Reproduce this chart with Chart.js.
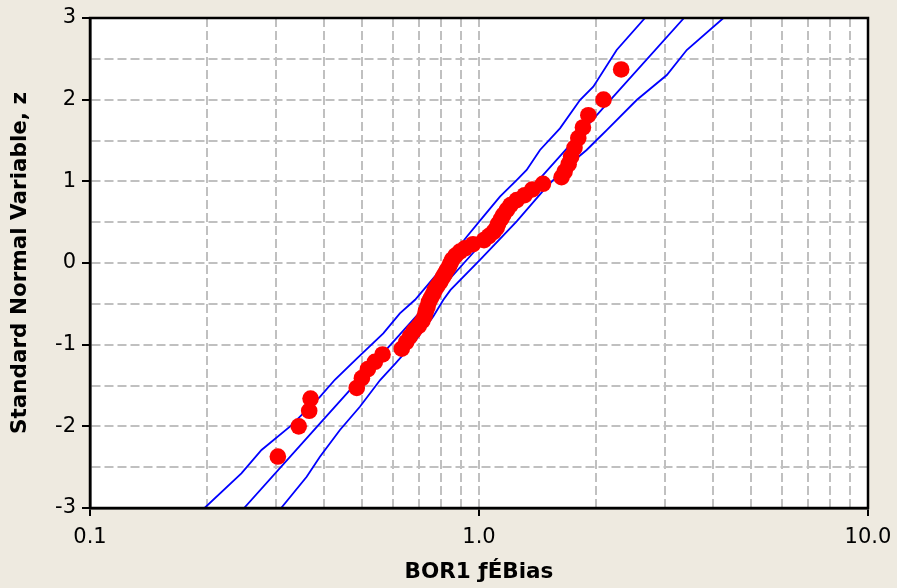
<!DOCTYPE html>
<html lang="en">
<head>
<meta charset="UTF-8">
<title>BOR1 probability plot</title>
<script src="https://cdn.jsdelivr.net/npm/chart.js"></script>
<style>
  html, body { margin: 0; padding: 0; background: #eeeae0; }
  canvas { display: block; }
</style>
</head>
<body>
<canvas id="probChart" width="897" height="588"></canvas>
<script>
// observed bias (sorted) and the standard normal variable of each rank
const biasValues = [
  0.304, 0.344, 0.366, 0.369, 0.485, 0.500, 0.518, 0.540, 0.565, 0.633,
  0.650, 0.664, 0.680, 0.700, 0.715, 0.725, 0.730, 0.737, 0.743, 0.752,
  0.762, 0.770, 0.782, 0.795, 0.806, 0.815, 0.826, 0.838, 0.845, 0.853,
  0.870, 0.893, 0.920, 0.965, 1.030, 1.060, 1.090, 1.110, 1.120, 1.140,
  1.155, 1.180, 1.205, 1.250, 1.310, 1.370, 1.460, 1.630, 1.660, 1.700,
  1.725, 1.760, 1.800, 1.850, 1.910, 2.090, 2.320
];
const zValues = [
  -2.37, -2.00, -1.81, -1.66, -1.53, -1.41, -1.30, -1.21, -1.12, -1.05,
  -0.97, -0.90, -0.83, -0.77, -0.71, -0.65, -0.59, -0.54, -0.48, -0.43,
  -0.38, -0.33, -0.28, -0.23, -0.18, -0.14, -0.09, -0.04, 0.00, 0.04,
  0.09, 0.14, 0.18, 0.23, 0.28, 0.33, 0.38, 0.43, 0.48, 0.54,
  0.59, 0.65, 0.71, 0.77, 0.83, 0.90, 0.97, 1.05, 1.12, 1.21,
  1.30, 1.41, 1.53, 1.66, 1.81, 2.00, 2.37
];

// fitted lognormal line
const fitZ = [-3, -2, -1, 0, 1, 2, 3];
const fitBias = [0.249, 0.384, 0.593, 0.915, 1.413, 2.18, 3.365];

// confidence band, left edge
const bandLoZ = [
  -3.00, -2.575, -2.29, -2.00, -1.64, -1.43, -1.17, -0.861, -0.616, -0.45,
  -0.045, 0.322, 0.567, 0.812, 1.016, 1.139, 1.384, 1.649, 1.996, 2.159,
  2.608, 3.00
];
const bandLoBias = [
  0.197, 0.245, 0.276, 0.327, 0.390, 0.426, 0.485, 0.5675, 0.626, 0.685,
  0.809, 0.930, 1.026, 1.132, 1.250, 1.326, 1.435, 1.615, 1.818, 1.967,
  2.259, 2.671
];

// confidence band, right edge
const bandHiZ = [
  -3.00, -2.617, -2.372, -2.045, -1.76, -1.433, -1.23, -0.983, -0.657, -0.45,
  -0.33, 0.037, 0.51, 0.934, 1.179, 1.384, 1.506, 1.628, 1.996, 2.302,
  2.608, 3.00
];
const bandHiBias = [
  0.310, 0.3606, 0.390, 0.439, 0.494, 0.557, 0.610, 0.678, 0.762, 0.810,
  0.845, 1.006, 1.250, 1.493, 1.680, 1.891, 2.007, 2.130, 2.543, 3.040,
  3.420, 4.250
];

// axes
const xGridValues = [
  0.1, 0.2, 0.3, 0.4, 0.5, 0.6, 0.7, 0.8, 0.9,
  1, 2, 3, 4, 5, 6, 7, 8, 9, 10
];
const xLabelValues = [0.1, 1, 10];
const xLabelText = ['0.1', '1.0', '10.0'];
const yMin = -3;
const yMax = 3;
const yStep = 0.5;

const toPoints = (xs, ys) => xs.map((x, i) => ({ x: x, y: ys[i] }));
const isXLabel = v => xLabelValues.some(l => Math.abs(l - v) < 1e-9);
const isYLabel = v => Math.abs(v - Math.round(v)) < 1e-9;

const frameBg = {
  id: 'frameBg',
  beforeDraw(chart) {
    const { ctx, chartArea: a } = chart;
    ctx.save();
    ctx.fillStyle = '#eeeae0';
    ctx.fillRect(0, 0, chart.width, chart.height);
    ctx.fillStyle = '#ffffff';
    ctx.fillRect(a.left, a.top, a.right - a.left, a.bottom - a.top);
    ctx.restore();
  },
  afterDraw(chart) {
    const { ctx, chartArea: a } = chart;
    ctx.save();
    ctx.strokeStyle = '#000000';
    ctx.lineWidth = 2.5;
    ctx.strokeRect(a.left, a.top, a.right - a.left, a.bottom - a.top);
    ctx.restore();
  }
};

const lineSet = (data) => ({
  data: data,
  showLine: true,
  borderColor: '#0000ff',
  borderWidth: 1.8,
  pointRadius: 0,
  fill: false,
  tension: 0
});

const tickFont = { family: 'DejaVu Sans', size: 21 };
const titleFont = { family: 'DejaVu Sans', size: 21.5, weight: 'bold' };

new Chart(document.getElementById('probChart'), {
  type: 'scatter',
  data: {
    datasets: [
      {
        data: toPoints(biasValues, zValues),
        backgroundColor: '#ff0000',
        borderWidth: 0,
        pointRadius: 8.3,
        pointHoverRadius: 8.3
      },
      lineSet(toPoints(fitBias, fitZ)),
      lineSet(toPoints(bandLoBias, bandLoZ)),
      lineSet(toPoints(bandHiBias, bandHiZ))
    ]
  },
  options: {
    responsive: false,
    animation: false,
    events: [],
    layout: { padding: { top: 18, right: 29, left: 0, bottom: 0 } },
    plugins: { legend: { display: false }, tooltip: { enabled: false } },
    scales: {
      x: {
        type: 'logarithmic',
        position: 'bottom',
        min: 0.1,
        max: 10,
        afterBuildTicks: scale => {
          scale.ticks = xGridValues.map(v => ({ value: v }));
        },
        afterFit: scale => {
          scale.height = 80;
          // end labels may hang past the plot edge
          scale.paddingLeft = 0;
          scale.paddingRight = 0;
        },
        ticks: {
          autoSkip: false,
          maxRotation: 0,
          padding: 9,
          color: '#000000',
          font: tickFont,
          callback: v => {
            const i = xLabelValues.findIndex(l => Math.abs(l - v) < 1e-9);
            return i >= 0 ? xLabelText[i] : '';
          }
        },
        grid: {
          color: '#c0c0c0',
          lineWidth: 2,
          tickLength: 8,
          tickWidth: 2,
          tickColor: ctx => isXLabel(ctx.tick.value) ? '#000000' : 'rgba(0,0,0,0)'
        },
        border: { display: true, color: '#000000', width: 2.5, dash: [9, 4] },
        title: {
          display: true,
          text: 'BOR1 ƒÉBias',
          color: '#000000',
          font: titleFont,
          padding: { top: 0, bottom: 3 }
        }
      },
      y: {
        type: 'linear',
        min: yMin,
        max: yMax,
        afterFit: scale => {
          scale.width = 90;
          scale.paddingTop = 0;
          scale.paddingBottom = 0;
        },
        ticks: {
          stepSize: yStep,
          padding: 6,
          color: '#000000',
          font: tickFont,
          callback: v => isYLabel(v) ? String(Math.round(v)) : ''
        },
        grid: {
          color: '#c0c0c0',
          lineWidth: 2,
          tickLength: 8,
          tickWidth: 2,
          tickColor: ctx => isYLabel(ctx.tick.value) ? '#000000' : 'rgba(0,0,0,0)'
        },
        border: { display: true, color: '#000000', width: 2.5, dash: [9, 4] },
        title: {
          display: true,
          text: 'Standard Normal Variable, z',
          color: '#000000',
          font: titleFont,
          padding: { top: 8, bottom: 0 }
        }
      }
    }
  },
  plugins: [frameBg]
});
</script>
</body>
</html>
